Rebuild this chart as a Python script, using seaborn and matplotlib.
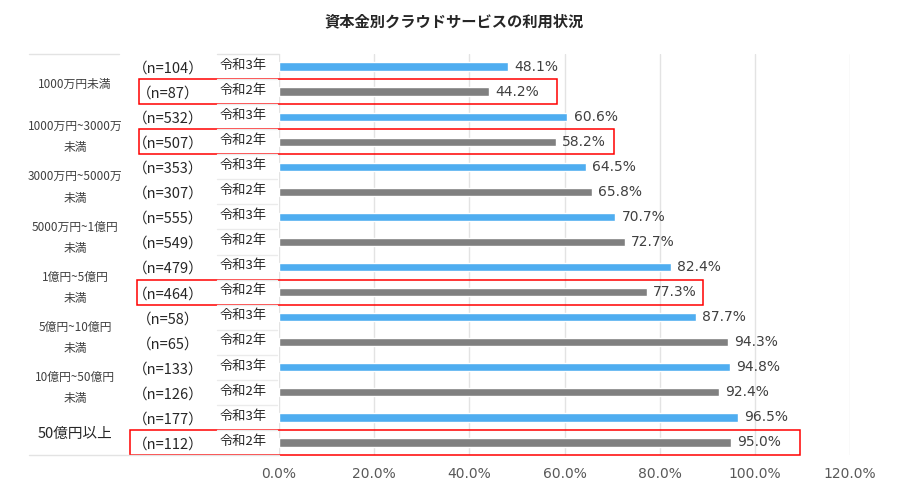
import matplotlib
matplotlib.use("Agg")
import matplotlib.pyplot as plt
import seaborn as sns
import pandas as pd
from matplotlib.patches import Rectangle
from matplotlib import transforms

sns.set_theme(style="white")
plt.rcParams['font.family'] = ['Noto Sans CJK JP', 'DejaVu Sans']

groups = ["1000万円未満", "1000万円~3000万\n未満", "3000万円~5000万\n未満", "5000万円~1億円\n未満",
          "1億円~5億円\n未満", "5億円~10億円\n未満", "10億円~50億円\n未満", "50億円以上"]
years = ["令和3年", "令和2年"]
r3_values = [48.1, 60.6, 64.5, 70.7, 82.4, 87.7, 94.8, 96.5]
r2_values = [44.2, 58.2, 65.8, 72.7, 77.3, 94.3, 92.4, 95.0]
r3_n = [104, 532, 353, 555, 479, 58, 133, 177]
r2_n = [87, 507, 307, 549, 464, 65, 126, 112]
highlight_rows = [1, 3, 9, 15]
x_ticks = [0, 20, 40, 60, 80, 100, 120]

rows, yrs, vals, ns = [], [], [], []
for i in range(len(groups)):
    for y, v, n in ((years[0], r3_values[i], r3_n[i]), (years[1], r2_values[i], r2_n[i])):
        rows.append(f"{i}-{y}")
        yrs.append(y)
        vals.append(v)
        ns.append(n)
df = pd.DataFrame({"row": rows, "year": yrs, "value": vals, "n": ns})

fig = plt.figure(figsize=(8.98, 4.93), dpi=100)
ax = fig.add_axes([279/898, 1-455/493, (850-279)/898, (455-54)/493])

sns.barplot(data=df, y="row", x="value", hue="year", dodge=False, orient="h",
            palette={"令和3年": "#4FADF0", "令和2年": "#808080"}, width=0.33,
            legend=False, ax=ax, saturation=1)

ax.set_xlim(0, 120)
ax.set_ylim(len(rows) - 0.5, -0.5)
ax.set_xticks(x_ticks)
ax.set_xticklabels([f"{t:.1f}%" for t in x_ticks], fontsize=10, color="#595959",
                   family=['DejaVu Sans'])
ax.tick_params(axis="x", length=0, pad=9)
ax.set_yticks([])
ax.set_xlabel("")
ax.set_ylabel("")
for s in ax.spines.values():
    s.set_visible(False)
ax.grid(axis="x", color="#E3E3E3", linewidth=1)
ax.set_axisbelow(True)

# value labels
for i, v in enumerate(vals):
    ax.text(v + 1.3, i, f"{v:.1f}%", va="center", ha="left", fontsize=10, color="#404040",
            family=['DejaVu Sans'])

trans = transforms.blended_transform_factory(fig.transFigure, ax.transData)
# year and n labels
for i in range(len(rows)):
    fig.text(243/898, i - 0.05, yrs[i], transform=trans, ha="center", va="center",
             fontsize=9.5, color="#262626")
    fig.text(168/898, i + 0.08, f"（n={ns[i]}）", transform=trans, ha="center", va="center",
             fontsize=10.5, color="#262626")

# separators in the year column
for b in range(1, len(rows)):
    ax.plot([217/898, 277/898], [b - 0.5, b - 0.5], transform=trans, color="#EBEBEB",
            linewidth=1, clip_on=False)
ax.plot([29/898, 119/898], [-0.5, -0.5], transform=trans, color="#E3E3E3", lw=1, clip_on=False)
ax.plot([217/898, 279/898], [-0.5, -0.5], transform=trans, color="#E3E3E3", lw=1, clip_on=False)
ax.plot([29/898, 279/898], [len(rows) - 0.5, len(rows) - 0.5], transform=trans,
        color="#E3E3E3", lw=1, clip_on=False)

# group labels
for g, name in enumerate(groups):
    c = 2 * g + 0.5
    if name == "50億円以上":
        fig.text(75/898, c + 0.15, name, transform=trans, ha="center", va="center",
                 fontsize=10.5, color="#262626")
    elif "\n" in name:
        l1, l2 = name.split("\n")
        fig.text(75/898, c - 0.1, l1, transform=trans, ha="center", va="center",
                 fontsize=8.5, color="#404040")
        fig.text(75/898, c + 0.75, l2, transform=trans, ha="center", va="center",
                 fontsize=8.5, color="#404040")
    else:
        fig.text(75/898, c + 0.2, name, transform=trans, ha="center", va="center",
                 fontsize=8.5, color="#404040")

# red highlight boxes
box_left_px = [139, 139, 137, 130]
box_right_px = [557, 614, 703, 800]
for r, lp, rp in zip(highlight_rows, box_left_px, box_right_px):
    rect = Rectangle((lp/898, r - 0.5), (rp - lp)/898, 1.0, transform=trans, fill=False,
                     edgecolor="#FF0000", linewidth=1.1, clip_on=False)
    ax.add_patch(rect)

fig.text(454/898, 1 - 21/493, "資本金別クラウドサービスの利用状況", ha="center", va="center",
         fontsize=11, fontweight="bold", color="#262626")

fig.savefig("out.png", dpi=100, facecolor="white")
